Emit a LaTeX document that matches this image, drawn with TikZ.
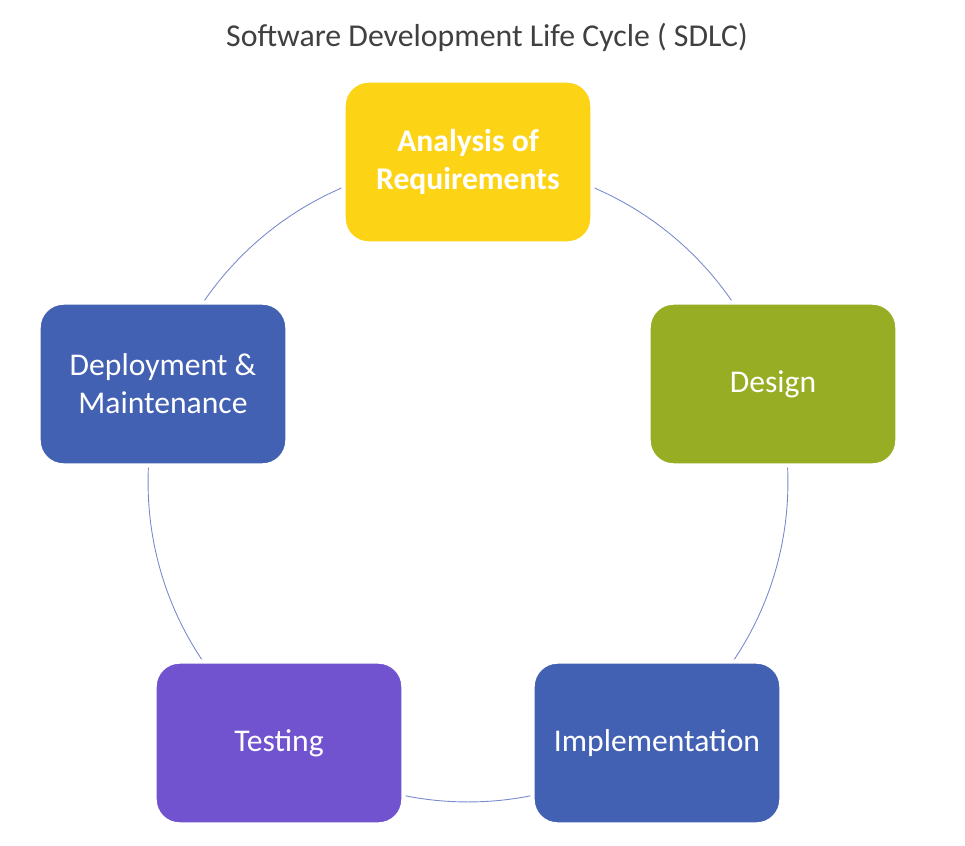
\documentclass[tikz,border=0pt]{standalone}
\usepackage{fontspec}
\setmainfont{Carlito}
\usepackage{tikz}
\usetikzlibrary{positioning}

\definecolor{reqyellow}{RGB}{253,211,22}
\definecolor{desgreen}{RGB}{151,174,36}
\definecolor{impblue}{RGB}{67,97,178}
\definecolor{testpurple}{RGB}{113,83,208}
\definecolor{ringblue}{RGB}{120,138,205}
\definecolor{titlegray}{RGB}{64,64,64}

\tikzset{
	phase/.style={rectangle, rounded corners=0.5cm, draw=white, line width=2.5pt,
		minimum width=4.98cm, minimum height=3.26cm, align=center, text=white,
		font=\fontsize{18}{21.5}\selectfont},
	ring/.style={circle, draw=ringblue, line width=0.5pt, minimum size=12.8cm, inner sep=0pt}
}

\begin{document}
\begin{tikzpicture}[x=0.02cm, y=-0.02cm]
		\useasboundingbox (0,0) rectangle (965,846);

		\node[font=\fontsize{18.1}{21}\selectfont, text=titlegray] (title) at (487,37)
			{Software Development Life Cycle ( SDLC)};

		% the cycle
		\node[ring] (cycle) at (468,482) {};

		\node[phase, fill=reqyellow, font=\fontsize{18}{21.5}\selectfont\bfseries] (req) at (468,162)
			{Analysis of\\Requirements};
		\node[phase, fill=desgreen] (des) at (773,384) {Design};
		\node[phase, fill=impblue] (imp) at (657,743) {Implementation};
		\node[phase, fill=testpurple] (tst) at (279,743) {Testing};
		\node[phase, fill=impblue] (dep) at (163,384) {Deployment \&\\Maintenance};
	\end{tikzpicture}
\end{document}
